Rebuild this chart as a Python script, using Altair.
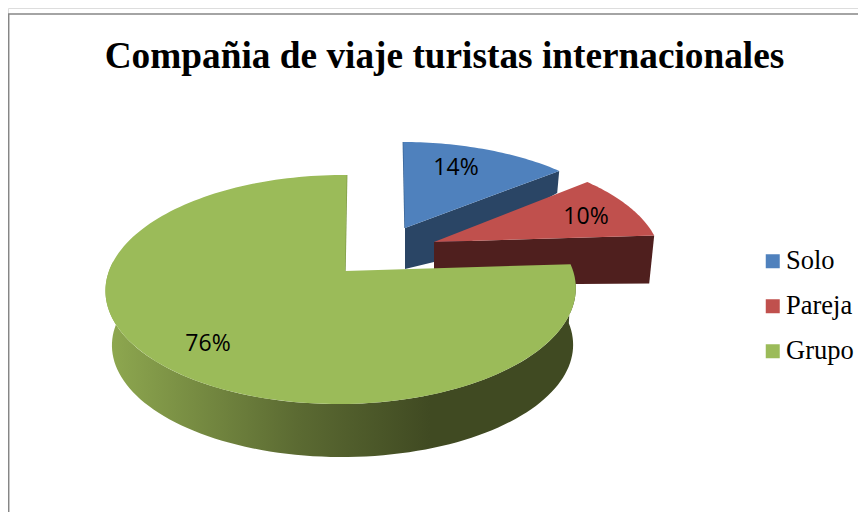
import math
import altair as alt
import pandas as pd

TITLE = "Compañia de viaje turistas internacionales"
categories = ["Solo", "Pareja", "Grupo"]
shares = [14, 10, 76]
colors = ["#4F81BD", "#C0504D", "#9BBB59"]
wall_colors = ["#2A4565", "#4F1F1E"]
edge_colors = ["#3A6494", "#7F9B48"]
label_x = [456, 586, 208]
label_y = [168, 217, 344]

K, M = 0.1616, 0.017

def project(theta, x0, y0, a, b, skew=0.0):
    s, c = math.sin(theta), math.cos(theta)
    w = 1 + K * c + M * s
    return (x0 + (a * s + skew * c) / w, y0 - b * c / w)

def sweep(t0, t1, n, *geom):
    return [project(t0 + (t1 - t0) * i / n, *geom) for i in range(n + 1)]

cum = [0, shares[0], shares[0] + shares[1], 100]
ang = [v / 100 * 2 * math.pi for v in cum]

geom_blue = (405, 228, 225, 100, -2)
geom_red = (434, 242, 227, 105, -6)
geom_green = (345, 271, 232, 111.5, 2)
geom_green_low = (346.5, 327, 227.5, 109, 0)

rows = []
def add(name, pts):
    for i, (x, y) in enumerate(pts + [pts[0]]):
        rows.append({"shape": name, "i": i, "x": x, "y": y})

# top faces
add("Solo", [(405, 228)] + sweep(ang[0], ang[1], 40, *geom_blue))
add("Pareja", [(434, 242)] + sweep(ang[1], ang[2], 40, *geom_red))
add("Grupo", [(345, 271)] + sweep(ang[2], ang[3], 160, *geom_green))

# side walls
tip_blue = project(ang[1], *geom_blue)
add("wall0", [(405, 228), tip_blue, (tip_blue[0] - 2, tip_blue[1] + 22), (434, 262), (405, 269)])
red_a = project(ang[2], *geom_red)
add("wall1", [(434, 242), red_a, (red_a[0] - 5, red_a[1] + 48), (434, 285)])
front_top = sweep(math.radians(88), math.radians(275), 100, *geom_green)
front_low = sweep(math.radians(88), math.radians(275), 100, *geom_green_low)
add("wall2", front_top + front_low[::-1])

# inner edges
edges = []
for name, a_pt, b_pt in [("edge0", (405, 228), project(0, *geom_blue)),
                         ("edge1", (345, 271), project(0, *geom_green))]:
    edges += [{"shape": name, "i": 0, "x": a_pt[0], "y": a_pt[1]},
              {"shape": name, "i": 1, "x": b_pt[0], "y": b_pt[1]}]

df = pd.DataFrame(rows)
xs = alt.Scale(domain=[8, 858], nice=False, zero=False)
ys = alt.Scale(domain=[512, 8], nice=False, zero=False)
X = alt.X("x:Q", scale=xs, axis=None)
Y = alt.Y("y:Q", scale=ys, axis=None)

legend = alt.Legend(title=None, orient="none", legendX=751.5, legendY=240, symbolType="square",
                    symbolSize=196, symbolStrokeWidth=0, labelFont="Liberation Serif", labelFontSize=26.5,
                    labelColor="#000000", rowPadding=18, labelOffset=0, symbolOffset=0, labelLimit=200)
fill = alt.Fill("shape:N", scale=alt.Scale(domain=categories, range=colors), sort=categories, legend=legend)

def face(name):
    return (alt.Chart(df[df["shape"] == name]).mark_line(strokeWidth=0, interpolate="linear", clip=False)
            .encode(x=X, y=Y, order="i:Q", fill=fill))

def wall(name, paint):
    return (alt.Chart(df[df["shape"] == name]).mark_line(strokeWidth=0, fill=paint)
            .encode(x=X, y=Y, order="i:Q"))

gradient = alt.Gradient(gradient="linear", x1=0, x2=1, y1=0, y2=0, stops=[
    alt.GradientStop(offset=0.0, color="#8FA950"),
    alt.GradientStop(offset=0.41, color="#5B6A32"),
    alt.GradientStop(offset=0.69, color="#404A22"),
    alt.GradientStop(offset=1.0, color="#404A22"),
])

def edge(name, color):
    e = pd.DataFrame([r for r in edges if r["shape"] == name])
    return alt.Chart(e).mark_line(stroke=color, strokeWidth=1.4).encode(x=X, y=Y, order="i:Q")

labels = pd.DataFrame({"x": label_x, "y": label_y, "t": [f"{s}%" for s in shares]})
label_layer = alt.Chart(labels).mark_text(font="Open Sans", fontSize=23, color="#000000").encode(x=X, y=Y, text="t:N")

title_layer = alt.Chart(pd.DataFrame({"x": [444.5], "y": [57], "t": [TITLE]})).mark_text(
    font="Liberation Serif", fontSize=37.3, fontWeight="bold", color="#000000").encode(x=X, y=Y, text="t:N")

border_left = alt.Chart(pd.DataFrame({"x": [8.7]})).mark_rule(color="#868686", strokeWidth=1.5).encode(
    x=X, y=alt.value(6), y2=alt.value(504))
border_top = alt.Chart(pd.DataFrame({"y": [14]})).mark_rule(color="#868686", strokeWidth=1.5).encode(
    y=Y, x=alt.value(0), x2=alt.value(850))

chart = alt.layer(
    border_left, border_top, title_layer,
    wall("wall0", wall_colors[0]), edge("edge0", edge_colors[0]), face("Solo"),
    wall("wall1", wall_colors[1]), face("Pareja"),
    wall("wall2", gradient), edge("edge1", edge_colors[1]), face("Grupo"),
    label_layer,
).resolve_scale(fill="shared").properties(
    width=850, height=504, padding=0, autosize=alt.AutoSizeParams(type="none")
).configure_view(strokeWidth=0).configure(background="#ffffff")

chart.save("out.html", embed_options={"renderer": "svg", "actions": False})
